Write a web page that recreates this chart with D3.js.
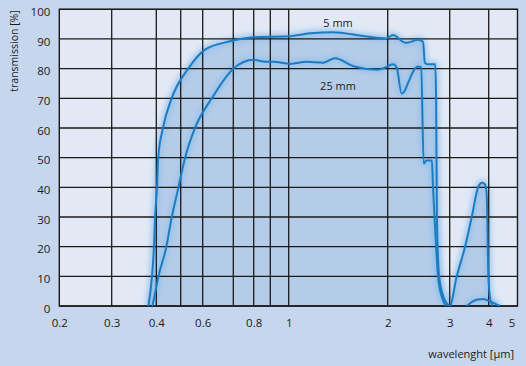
<!DOCTYPE html>
<html><head><meta charset="utf-8">
<script src="https://cdn.jsdelivr.net/npm/d3@7"></script>
<style>
html,body{margin:0;padding:0;background:#c6d7ed;}
svg{display:block;font-family:"Open Sans",sans-serif;}
</style></head><body>
<svg id="c" width="526" height="366"></svg>
<script>
// ---- data ----
const gridX = [0.3,0.4,0.5,0.6,0.7,0.8,0.9,1,2,3,4];
const xTickLabels = [0.2,0.3,0.4,0.6,0.8,1,2,3,4];
const yTicks = [0,10,20,30,40,50,60,70,80,90,100];

const wl5 = [0.380,0.389,0.394,0.397,0.4026,0.407,0.425,0.460,0.532,0.607,0.688,0.80,1.0,1.16,1.36,1.73,1.98,2.07,2.25,2.45,2.52,2.55,2.60,2.73,2.745,2.76,2.80,2.88,2.97,3.0,3.16,3.36,3.53,3.70,3.81,3.89,3.94,3.99,4.05,4.12];
const t5  = [0,10,20,30,40,50,60,70,80,86.4,89.2,90.6,90.9,91.9,92.3,90.8,90.2,91.3,88.7,89.7,89,82,81.5,81.5,70,29,10,3,0.3,0,10,20,30,40,41.5,41,38,10,2,0];

const wl25 = [0.39,0.398,0.408,0.437,0.46,0.489,0.518,0.563,0.628,0.70,0.80,0.866,0.916,1.01,1.134,1.274,1.383,1.583,1.863,1.99,2.07,2.12,2.19,2.22,2.30,2.39,2.44,2.49,2.53,2.58,2.67,2.69,2.73,2.78,2.85,2.93, null, 3.40,3.55,3.69,3.85,4.05,4.33];
const t25  = [0,5,10,19.4,29.6,39.7,49.8,60,70,80,83,82.3,82.3,81.6,82.3,82,83.5,80.7,79.6,80.7,81.5,80.5,71.6,72,76,80,80.7,80.5,48,49,49,40,25,10,3,0, null, 0,1.5,2.2,2.4,1.5,0];

const seriesLabels = ["5 mm","25 mm"];

// ---- scales ----
const svg = d3.select("#c");
const x = d3.scaleLog()
  .domain([0.2,0.3,0.4,0.5,0.6,0.7,0.8,0.9,1,2,3,4,4.9])
  .range([59.3,111.7,156.3,180.7,202.7,233.3,253.7,270.3,288.7,387.7,449.7,488.7,517.5]);
const y = d3.scaleLinear().domain([0,100]).range([306,9.3]);
const X0 = x(0.2), X1 = x(4.9), Y0 = y(0), Y1 = y(100);

const defs = svg.append("defs");
defs.append("filter").attr("id","glow").attr("x","-20%").attr("y","-20%").attr("width","140%").attr("height","140%")
  .append("feGaussianBlur").attr("stdDeviation",2.6);
defs.append("filter").attr("id","soft").attr("x","-20%").attr("y","-20%").attr("width","140%").attr("height","140%")
  .append("feGaussianBlur").attr("stdDeviation",0.5);
defs.append("clipPath").attr("id","clip").append("rect")
  .attr("x",X0).attr("y",Y1).attr("width",X1-X0).attr("height",Y0-Y1);

svg.append("rect").attr("x",X0).attr("y",Y1).attr("width",X1-X0).attr("height",Y0-Y1).attr("fill","#e2e9f5");

const d5 = wl5.map((w,i)=>({w, t:t5[i]}));
const d25 = wl25.map((w,i)=>({w, t:t25[i]}));

const g = svg.append("g").attr("clip-path","url(#clip)");
const area = d3.area().x(d=>x(d.w)).y0(y(0)).y1(d=>y(d.t)).curve(d3.curveMonotoneX);
const line = d3.line().defined(d=>d.w!==null).x(d=>x(d.w)).y(d=>y(d.t)).curve(d3.curveMonotoneX);

g.append("path").datum(d5).attr("d",area).attr("fill","#b5cce8");

// glows
[d5,d25].forEach(d=>{
  g.append("path").datum(d).attr("d",line).attr("fill","none")
   .attr("stroke","#8fc0ec").attr("stroke-width",7).attr("opacity",0.75).attr("filter","url(#glow)");
});

// grid
const grid = svg.append("g").attr("stroke","#1a1a1a").attr("stroke-width",1.3);
gridX.forEach(v=>grid.append("line").attr("x1",x(v)).attr("x2",x(v)).attr("y1",Y1).attr("y2",Y0));
yTicks.forEach(v=>grid.append("line").attr("x1",X0).attr("x2",X1).attr("y1",y(v)).attr("y2",y(v)));
svg.append("rect").attr("x",X0).attr("y",Y1).attr("width",X1-X0).attr("height",Y0-Y1)
  .attr("fill","none").attr("stroke","#1a1a1a").attr("stroke-width",1.4);

// lines
const lg = svg.append("g").attr("clip-path","url(#clip)");
[d5,d25].forEach(d=>{
  lg.append("path").datum(d).attr("d",line).attr("fill","none")
   .attr("stroke","#1f7cc2").attr("stroke-width",2).attr("filter","url(#soft)");
});

// axes labels
const yAxis = d3.axisLeft(y).tickValues(yTicks).tickSize(0).tickPadding(9);
const ya = svg.append("g").attr("transform",`translate(${X0},0)`).call(yAxis);
ya.select(".domain").remove();
ya.selectAll("text").attr("font-family","Open Sans").attr("font-size",11.5).attr("fill","#1a1a1a").attr("dy","0.55em");

const xAxis = d3.axisBottom(x).tickValues(xTickLabels).tickSize(0).tickPadding(13).tickFormat(d3.format("~g"));
const xa = svg.append("g").attr("transform",`translate(0,${Y0})`).call(xAxis);
xa.select(".domain").remove();
xa.selectAll("text").attr("font-family","Open Sans").attr("font-size",11.5).attr("fill","#1a1a1a");
svg.append("text").attr("x",X1-5.5).attr("y",327).attr("text-anchor","middle")
  .attr("font-size",11.5).attr("fill","#1a1a1a").text("5");

svg.append("text").attr("transform",`translate(17.5,${(9+93)/2}) rotate(-90)`).attr("text-anchor","middle")
  .attr("font-size",10.5).attr("fill","#1a1a1a").text("transmission [%]");
svg.append("text").attr("x",514).attr("y",358).attr("text-anchor","end")
  .attr("font-size",11).attr("fill","#1a1a1a").text("wavelenght [µm]");

svg.append("text").attr("x",338).attr("y",26.5).attr("text-anchor","middle")
  .attr("font-size",11).attr("fill","#1a1a1a").text(seriesLabels[0]);
svg.append("text").attr("x",338).attr("y",90).attr("text-anchor","middle")
  .attr("font-size",11).attr("fill","#1a1a1a").text(seriesLabels[1]);
</script></body></html>
